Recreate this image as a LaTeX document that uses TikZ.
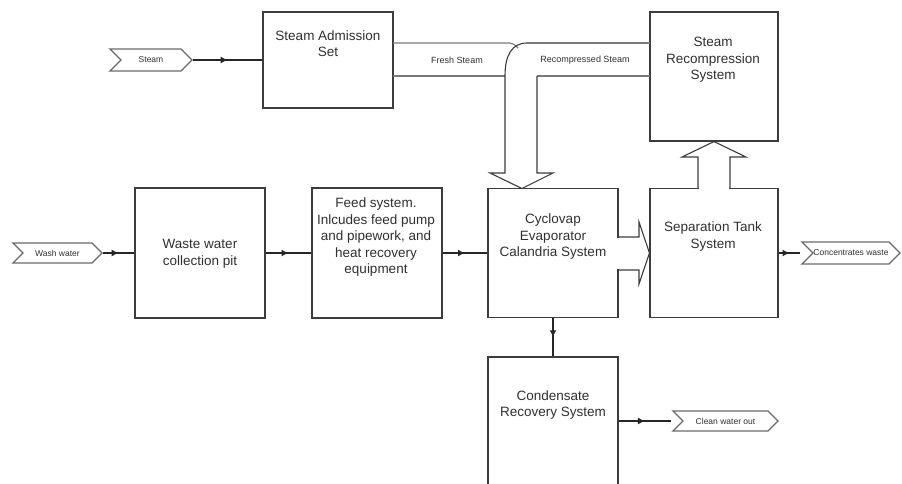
\documentclass[tikz,border=0pt]{standalone}
\usepackage{fontspec}
\setmainfont{Liberation Sans}
\usetikzlibrary{arrows.meta,decorations.markings,shapes.symbols}
\definecolor{ln}{HTML}{3C3C3C}
\definecolor{tx}{HTML}{303030}
\definecolor{pipec}{HTML}{7A7A7A}
\definecolor{tagc}{HTML}{6A6A6A}
\tikzset{
  box/.style={draw=ln, line width=1.1pt, inner sep=0pt, minimum width=130pt},
  boxtext/.style={align=center, text=tx, inner sep=0pt, font=\fontsize{13.5}{16.5}\selectfont},
  tag/.style={signal, signal from=west, signal to=east, draw=tagc, line width=1.3pt,
    inner sep=0pt, text=tx, font=\fontsize{8.5}{10}\selectfont},
  smalltext/.style={text=tx, inner sep=0pt, font=\fontsize{9}{10}\selectfont},
  flow/.style={draw=black!85, line width=1.2pt, postaction={decorate},
    decoration={markings, mark=at position 0.5 with {\arrow{Latex[length=7pt,width=7pt]}}}},
  bigarrow/.style={draw=ln, line width=1.1pt, line join=miter},
  pipeline/.style={draw=pipec, line width=1.1pt}
}
\begin{document}
\begin{tikzpicture}[x=1pt,y=-1pt]
\useasboundingbox (0,0) rectangle (902,483);
\clip (0,0) rectangle (902,483);
\fill[white] (0,0) rectangle (902,483);

% boxes
\node[box, minimum height=96pt] (adm) at (328,60) {};
\node[box, minimum width=128pt, minimum height=129pt] (rec) at (714,76.5) {};
\node[box, minimum height=130pt] (pit) at (200,253) {};
\node[box, minimum height=130pt] (feed) at (377,253) {};
\node[box, minimum height=129pt] (cyc) at (553,253) {};
\node[box, minimum width=128pt, minimum height=129pt] (sep) at (714,253) {};
\node[box, minimum height=160pt] (cond) at (553,437) {};

% box texts
\node[boxtext] (admt) at (328,43.5) {Steam Admission\\Set};
\node[boxtext] (rect) at (713,60) {Steam\\Recompression\\System};
\node[boxtext] (pitt) at (200,253.5) {Waste water\\collection pit};
\node[boxtext] (feedt) at (376,237.5) {Feed system.\\Inlcudes feed pump\\and pipework, and\\heat recovery\\equipment};
\node[boxtext] (cyct) at (553,237) {Cyclovap\\Evaporator\\Calandria System};
\node[boxtext] (sept) at (713,236.5) {Separation Tank\\System};
\node[boxtext] (condt) at (553,405) {Condensate\\Recovery System};

% tags
\node[tag, minimum width=82pt, minimum height=22pt] (steam) at (151,60) {Steam};
\node[tag, minimum width=89pt, minimum height=20pt] (wash) at (57.5,253) {Wash water};
\node[tag, minimum width=98pt, minimum height=22pt] (conc) at (851,253) {Concentrates waste};
\node[tag, minimum width=105pt, minimum height=20pt] (clean) at (725.5,421) {Clean water out};

% connectors
\draw[flow] (steam.east) -- (adm.west);
\draw[flow] (wash.east) -- (pit.west);
\draw[flow] (pit.east) -- (feed.west);
\draw[flow] (feed.east) -- (cyc.west);
\draw[flow] (sep.east) -- (sep.east -| conc.north west);
\draw[flow] (cyc.south) -- (cond.north);
\draw[flow] (cond.north east |- clean.west) -- (clean.west -| clean.north west);

% steam pipes
\coordinate (fa) at (393,43);
\coordinate (fb) at (393,76);
\coordinate (ra) at (650,43);
\coordinate (rb) at (650,76);
\draw[pipeline] (fa) -- (510,43) .. controls (513,43) and (515,45) .. (518,48);
\draw[pipeline] (fb) -- (505,76);
\draw[pipeline] (ra) -- (527,43);
\draw[pipeline] (rb) -- (537,76);
\draw[bigarrow] (527,43) .. controls (512,43) and (505,55) .. (505,76) -- (505,173)
  -- (490,173) -- (522,188.5) -- (553,173) -- (537,173) -- (537,76);
\node[smalltext] (fresh) at (457,60) {Fresh Steam};
\node[smalltext] (recomp) at (585,60) {Recompressed Steam};

% arrow cyclovap -> separation
\coordinate (c1) at (618,237);
\coordinate (c2) at (618,270);
\fill[white] (616,237.8) rectangle (620,269.2);
\draw[bigarrow] (c1) -- (639,237) -- (639,222) -- (sep.west) -- (639,284) -- (639,270) -- (c2);

% arrow separation -> recompression
\coordinate (s1) at (698,188.5);
\coordinate (s2) at (730,188.5);
\fill[white] (698.8,186) rectangle (729.2,191);
\draw[bigarrow] (s1) -- (698,157) -- (682,157) -- (rec.south) -- (746,157) -- (730,157) -- (s2);
\end{tikzpicture}
\end{document}
